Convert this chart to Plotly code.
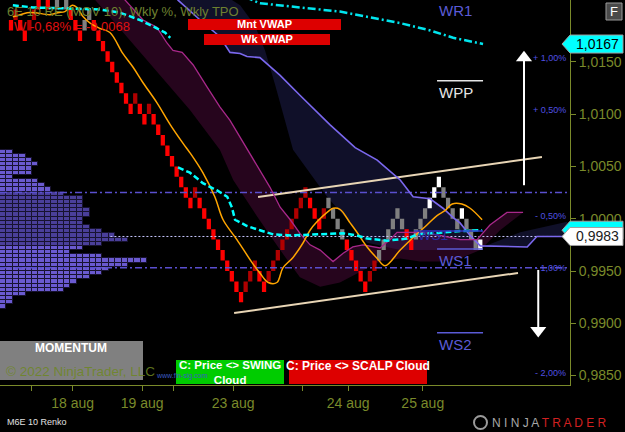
import plotly.graph_objects as go

# ------------------------------------------------------------------ data
BRICK = 0.001
BRICK_FLOOR = 0.9920
brick_level = [26, 27, 26, 25, 26, 27, 28, 29, 28, 29, 28, 29, 28, 27, 26, 25, 26, 27, 26, 25,
               24, 23, 22, 21, 20, 19, 18, 19, 18, 17, 18, 17, 16, 15, 14, 13, 12, 11, 10, 9,
               10, 9, 8, 7, 6, 5, 4, 3, 2, 1, 0, 1, 2, 3, 2, 1, 2, 3, 4, 5,
               6, 7, 8, 9, 10, 9, 8, 7, 8, 9, 8, 7, 6, 5, 4, 3, 2, 1, 2, 3,
               4, 5, 6, 7, 8, 7, 6, 5, 6, 7, 8, 9, 10, 11, 10, 9, 8, 7, 8, 7,
               6, 5, 5]
brick_kind = list("DUDDUUDUDGGGGDDDGGDD"
                  "DDDDDDDUDDUDDDDDDDDD"
                  "UDDDDDDDDDDUUUDDUUUU"
                  "UUUUUDDDUGGGGDDDDDUU"
                  "GGGGGGDDGGGWWWGGGGWG"
                  "GGW")

# fast moving average (orange)
ma_idx = [0.4, 2.0, 3.5, 5.2, 8.5, 10.2, 11.7, 13.3, 14.3, 15.7, 17.2, 19.3, 21.5, 24.3, 26.5, 28.7,
          31.7, 34.6, 37.4, 38.9, 41.7, 44.3, 46.1, 49.1, 52.4, 54.1, 55.9, 57.8, 59.1, 61.3, 63.5,
          65.0, 66.5, 68.7, 70.0, 71.5, 73.7, 75.2, 77.4, 79.6, 81.3, 84.6, 87.4, 90.4, 92.6, 94.4,
          95.9, 98.0, 99.8, 102.4]
ma_val = [1.0193, 1.0195, 1.0197, 1.0197, 1.0195, 1.0197, 1.0198, 1.0204, 1.0202, 1.0193, 1.0187,
          1.0182, 1.0178, 1.0158, 1.0145, 1.0130, 1.0111, 1.0090, 1.0072, 1.0063, 1.0044, 1.0021,
          0.9999, 0.9980, 0.9958, 0.9948, 0.9939, 0.9939, 0.9953, 0.9963, 0.9977, 0.9989, 0.9997,
          1.0006, 1.0010, 1.0009, 0.9996, 0.9987, 0.9973, 0.9962, 0.9955, 0.9970, 0.9982, 0.9994,
          1.0003, 1.0008, 1.0014, 1.0014, 1.0010, 0.9999]

# weekly VWAP (two weeks) and monthly VWAP
wvwap1_idx = [0.4, 4.8, 12.2, 19.3, 23.7, 28.0, 31.7, 33.5, 34.6]
wvwap1_val = [1.0204, 1.0202, 1.0201, 1.0200, 1.0197, 1.0190, 1.0182, 1.0178, 1.0173]
wvwap2_idx = [36.3, 38.9, 41.7, 44.8, 47.0, 48.0, 48.7, 51.3, 54.1, 57.0, 60.7, 65.0, 69.3, 72.2,
              75.2, 77.4, 81.7, 86.1, 88.3, 91.1, 93.3, 97.0, 102.4]
wvwap2_val = [1.0049, 1.0044, 1.0034, 1.0027, 1.0021, 1.0011, 0.9999, 0.9993, 0.9989, 0.9985,
              0.9984, 0.9985, 0.9986, 0.9986, 0.9984, 0.9981, 0.9979, 0.9981, 0.9985, 0.9986,
              0.9987, 0.9988, 0.9989]
mvwap_idx = [50.9, 54.1, 71.5, 84.6, 91.1, 96.1, 102.6]
mvwap_val = [1.0212, 1.0206, 1.0198, 1.0187, 1.0180, 1.0173, 1.0167]

# swing cloud (lavender edge + second edge)
swing_a_idx = [20.0, 30.2, 36.3, 41.1, 45.4, 47.6, 49.8, 51.3, 54.1, 58.5, 62.8, 69.3, 74.8, 79.6,
               80.9, 84.6, 87.4, 91.1, 93.9, 96.1, 97.6, 99.8, 102.0, 112.2, 114.3, 120.9]
swing_a_val = [1.0320, 1.0247, 1.0209, 1.0190, 1.0174, 1.0159, 1.0158, 1.0155, 1.0154, 1.0137,
               1.0118, 1.0090, 1.0068, 1.0056, 1.0051, 1.0037, 1.0021, 1.0019, 1.0010, 1.0001,
               0.9996, 0.9984, 0.9974, 0.9973, 0.9983, 0.9983]
swing_b_idx = [20.0, 30.2, 41.1, 49.8, 53.0, 55.2, 57.4, 59.6, 61.3, 68.7, 73.7, 77.4, 84.6, 93.3,
               102.0, 110.7, 120.9]
swing_b_val = [1.0330, 1.0260, 1.0228, 1.0204, 1.0185, 1.0161, 1.0128, 1.0094, 1.0066, 1.0021,
               0.9996, 0.9977, 0.9970, 0.9970, 0.9972, 0.9987, 0.9997]

# scalp cloud (magenta edge + lower edge)
scalp_a_idx = [21.5, 24.8, 28.7, 31.7, 33.9, 35.2, 37.2, 39.6, 42.6, 45.4, 47.6, 49.8, 52.0, 54.1,
               56.3, 58.5, 60.7, 62.8, 65.0, 67.2, 70.0, 72.2, 74.3, 76.5, 80.2, 82.4, 83.9, 86.7,
               89.6, 93.3, 97.6, 101.3, 104.1, 107.8, 111.3]
scalp_a_val = [1.0223, 1.0209, 1.0190, 1.0183, 1.0168, 1.0161, 1.0159, 1.0147, 1.0126, 1.0107,
               1.0094, 1.0078, 1.0061, 1.0047, 1.0030, 1.0011, 0.9999, 0.9986, 0.9975, 0.9970,
               0.9959, 0.9967, 0.9973, 0.9975, 0.9972, 0.9980, 0.9987, 0.9987, 0.9987, 0.9984,
               0.9980, 0.9980, 0.9994, 1.0006, 1.0006]
scalp_b_idx = [15.0, 18.3, 25.9, 32.4, 38.9, 45.4, 48.3, 53.5, 58.5, 62.8, 67.2, 71.5, 75.9, 80.2,
               84.6, 88.9, 93.3, 97.6, 102.0, 106.3, 111.3]
scalp_b_val = [1.0235, 1.0209, 1.0171, 1.0137, 1.0104, 1.0066, 1.0037, 1.0002, 0.9970, 0.9944,
               0.9935, 0.9939, 0.9949, 0.9959, 0.9962, 0.9959, 0.9959, 0.9962, 0.9970, 0.9989,
               1.0006]

# weekly TPO profile
tpo_price = [1.0064, 1.0060, 1.0056, 1.0052, 1.0048, 1.0044, 1.0040, 1.0036, 1.0032, 1.0028,
             1.0024, 1.0020, 1.0016, 1.0012, 1.0008, 1.0004, 1.0000, 0.9996, 0.9992, 0.9988,
             0.9984, 0.9980, 0.9976, 0.9972, 0.9968, 0.9964, 0.9960, 0.9956, 0.9952, 0.9948,
             0.9944, 0.9940, 0.9936, 0.9932, 0.9928, 0.9924, 0.9920, 0.9916]
tpo_count = [2, 4, 5, 6, 5, 5, 2, 6, 7, 8, 10, 13, 13, 13, 14, 14, 13, 13, 14, 16,
             18, 20, 16, 13, 11, 16, 23, 20, 17, 16, 14, 12, 11, 10, 4, 2, 2, 1]
value_area = (0.9973, 1.0025)

# levels
level_dashdot = [1.0025, 0.9953]
last_price = 0.9983
wk_vwap_last = 0.9989
mnt_vwap_last = 1.0167
pct_ref = 1.00532
pct_levels = [1.0, 0.5, -0.5, -1.0, -2.0]
pivots = [("WR1", 1.0213), ("WPP", 1.0132), ("WS1", 0.9971), ("WS2", 0.9891)]
chan_upper = ([53.7, 115.4], [1.00207, 1.00590])
chan_lower = ([48.5, 110.2], [0.99098, 0.99481])
range_up = (111.5, 1.0032, 1.0154)
range_dn = (114.6, 0.9951, 0.9893)

tick_idx = [4.5, 13.4, 28.5, 35.4, 48.3, 63.4, 73.3, 89.5]
tick_txt = ["", "18 aug", "19 aug", "", "23 aug", "", "24 aug", "25 aug"]
y_ticks = [0.9850, 0.9900, 0.9950, 1.0000, 1.0050, 1.0100, 1.0150]

# ------------------------------------------------------------------ style
X0, X1 = -2.39, 121.5
Y0, Y1 = 0.98410, 1.02091
PW, PH = 570, 385
OLIVE = "#7A8A2A"
FONT = "Liberation Sans, Arial, sans-serif"
KIND_COL = {"D": "#FF0000", "U": "#B00000", "G": "#808080", "W": "#FFFFFF"}
BW = 0.46  # half brick width in bar units


def ax(px):
    return px / PW


def ay(py):
    return 1 - py / PH


def py_of(p):
    return (p - Y0) / (Y1 - Y0)


fig = go.Figure()

# clouds
fig.add_trace(go.Scatter(x=swing_a_idx + swing_b_idx[::-1], y=swing_a_val + swing_b_val[::-1],
                         fill="toself", fillcolor="rgba(50,50,125,0.33)", line=dict(width=0),
                         mode="lines", hoverinfo="skip"))
fig.add_trace(go.Scatter(x=scalp_a_idx + scalp_b_idx[::-1], y=scalp_a_val + scalp_b_val[::-1],
                         fill="toself", fillcolor="rgba(105,15,80,0.36)", line=dict(width=0),
                         mode="lines", hoverinfo="skip"))

# TPO profile cells
cw = 6.4 / 4.6
cy, cb, cc = [], [], []
for p, n in zip(tpo_price, tpo_count):
    inside = value_area[0] <= p <= value_area[1]
    for j in range(n):
        cy.append(p)
        cb.append(X0 + j * cw)
        cc.append("#4A3F9A" if inside else "#6A5AD0")
fig.add_trace(go.Bar(orientation="h", y=cy, x=[cw] * len(cy), base=cb, width=0.0004,
                     marker=dict(color=cc, line=dict(color="#17122f", width=1)),
                     hoverinfo="skip"))

# renko bricks, one filled polygon trace per brick colour
for kind, col in KIND_COL.items():
    xs, ys = [], []
    for i, (k, kd) in enumerate(zip(brick_level, brick_kind)):
        if kd != kind:
            continue
        lo = BRICK_FLOOR + k * BRICK
        hi = lo + BRICK
        xs += [i - BW, i + BW, i + BW, i - BW, i - BW, None]
        ys += [lo, lo, hi, hi, lo, None]
    fig.add_trace(go.Scatter(x=xs, y=ys, mode="lines", fill="toself", fillcolor=col,
                             line=dict(width=0, color=col), hoverinfo="skip"))

# horizontal levels
for lv in level_dashdot:
    fig.add_trace(go.Scatter(x=[X0, X1], y=[lv, lv], mode="lines",
                             line=dict(color="#5A4FCF", width=1.5, dash="7px,3px,2px,3px")))
fig.add_trace(go.Scatter(x=[X0 + 24, X1], y=[last_price, last_price], mode="lines",
                         line=dict(color="#C8C8FF", width=1, dash="2px,2px")))

# channel lines
for cx_, cyv in (chan_upper, chan_lower):
    fig.add_trace(go.Scatter(x=cx_, y=cyv, mode="lines", line=dict(color="#E8D5B5", width=2)))

# cloud edge lines
fig.add_trace(go.Scatter(x=swing_a_idx, y=swing_a_val, mode="lines",
                         line=dict(color="#7B68EE", width=1.6)))
fig.add_trace(go.Scatter(x=scalp_a_idx, y=scalp_a_val, mode="lines",
                         line=dict(color="#A8288A", width=1.3)))

# moving average and vwaps
fig.add_trace(go.Scatter(x=ma_idx, y=ma_val, mode="lines", line=dict(color="#FFA500", width=1.5,
                                                                     shape="spline")))
for xi, yv in ((wvwap1_idx, wvwap1_val), (wvwap2_idx, wvwap2_val)):
    fig.add_trace(go.Scatter(x=xi, y=yv, mode="lines",
                             line=dict(color="#00FFFF", width=2.5, dash="6px,3px")))
fig.add_trace(go.Scatter(x=mvwap_idx, y=mvwap_val, mode="lines",
                         line=dict(color="#00E5EE", width=2.5, dash="8px,3px,2px,3px")))

# expected range arrows
for (xa, a, b), sym in ((range_up, "triangle-up"), (range_dn, "triangle-down")):
    fig.add_trace(go.Scatter(x=[xa, xa], y=[a, b], mode="lines",
                             line=dict(color="#FFFFFF", width=2)))
    fig.add_trace(go.Scatter(x=[xa], y=[b], mode="markers",
                             marker=dict(symbol=sym, size=14, color="#FFFFFF")))

shapes = []
ann = []

# pivot labels (overline + name)
for name, p in pivots:
    col = "#E6E6E6" if name == "WPP" else "#5B5BD6"
    shapes.append(dict(type="line", xref="x", yref="y", x0=92.6, x1=102.6, y0=p, y1=p,
                       line=dict(color=col, width=1.5)))
    if p <= Y1:
        ann.append(dict(x=92.6, y=p, xref="x", yref="y", text=name, showarrow=False,
                        xanchor="left", yanchor="top", yshift=-1,
                        font=dict(family=FONT, size=15, color=col)))
    else:  # level above the visible range: label pinned to the top edge
        ann.append(dict(x=92.6, y=1, xref="x", yref="paper", text=name, showarrow=False,
                        xanchor="left", yanchor="top", yshift=0,
                        font=dict(family=FONT, size=15, color=col)))

# percent labels
for pc in pct_levels:
    p = pct_ref * (1 + pc / 100)
    txt = ("+ " if pc > 0 else "- ") + f"{abs(pc):.2f}".replace(".", ",") + "%"
    ann.append(dict(x=1, y=p, xref="paper", yref="y", text=txt, showarrow=False,
                    xanchor="right", yanchor="middle", xshift=-2,
                    font=dict(family=FONT, size=9, color="#5050E0")))

# small WS1 tag line
shapes.append(dict(type="line", xref="x", yref="y", x0=87.6, x1=102.6, y0=0.99883, y1=0.99883,
                   line=dict(color="#3030C0", width=1.5)))
ann.append(dict(x=88.0, y=0.9984, xref="x", yref="y", text="WS1", showarrow=False,
                xanchor="left", yanchor="middle",
                font=dict(family=FONT, size=14, color="#2A2AA0")))

# title texts
ann.append(dict(x=ax(5), y=ay(11), xref="paper", yref="paper", showarrow=False,
                text="6E 10 RE (MOV 10), Wkly %, Wkly TPO", xanchor="left", yanchor="middle",
                font=dict(family=FONT, size=13, color="#6E8030")))
ann.append(dict(x=ax(12), y=ay(26), xref="paper", yref="paper", showarrow=False,
                text="W -0,68% = -0,0068", xanchor="left", yanchor="middle",
                font=dict(family=FONT, size=13, color="#E01010")))


def box(x0, y0, x1, y1, fill, line=None):
    shapes.append(dict(type="rect", xref="paper", yref="paper", x0=ax(x0), x1=ax(x1),
                       y0=ay(y1), y1=ay(y0), fillcolor=fill,
                       line=dict(width=1 if line else 0, color=line or fill), layer="above"))


def label(x, y, text, size=11, color="#FFFFFF", bold=True, anchor="center", family=FONT):
    t = f"<b>{text}</b>" if bold else text
    ann.append(dict(x=ax(x), y=ay(y), xref="paper", yref="paper", text=t, showarrow=False,
                    xanchor=anchor, yanchor="middle", font=dict(family=family, size=size,
                                                                  color=color)))


box(188, 19, 341, 30, "#DD0000")
label(264, 24.5, "Mnt VWAP")
box(204, 34, 330, 45, "#DD0000")
label(267, 39.5, "Wk VWAP")

box(0, 341, 143, 380, "#808080")
label(71, 348, "MOMENTUM", size=12)
label(4, 371, "© 2022 NinjaTrader, LLC", size=13.5, color="rgba(110,135,35,0.85)", bold=False,
      anchor="left")
label(154, 376, "www.fin-sig.com", size=7, color="#3A5AC0", bold=False, anchor="left")

box(176, 360, 284, 384, "#00CC00")
ann.append(dict(x=ax(230), y=ay(372), xref="paper", yref="paper", showarrow=False,
                xanchor="center", yanchor="middle", align="center",
                text="<b>C: Price &lt;&gt; SWING<br>Cloud</b>",
                font=dict(family=FONT, size=11.5, color="#FFFFFF")))
box(289, 360, 427, 384, "#DD0000")
label(358, 366, "C: Price &lt;&gt; SCALP Cloud", size=12)

# F button
box(606, 3, 622, 20, "#4A4A4A", "#9A9A9A")
label(614, 11.5, "F", size=13, bold=False)


# price markers at the right axis
def marker(price, fill, text, txtcol):
    yc = py_of(price)
    h = 9.0 / PH
    shapes.append(dict(type="path", xref="paper", yref="paper",
                       path=f"M {ax(562)},{yc} L {ax(570)},{yc + h} L {ax(623)},{yc + h} "
                            f"L {ax(623)},{yc - h} L {ax(570)},{yc - h} Z",
                       fillcolor=fill, line=dict(color="#A0A0A0", width=1), layer="above"))
    if text:
        ann.append(dict(x=ax(597), y=yc, xref="paper", yref="paper", text=text, showarrow=False,
                        xanchor="center", yanchor="middle",
                        font=dict(family=FONT, size=14, color=txtcol)))


marker(mnt_vwap_last, "#00FFFF", f"{mnt_vwap_last:.4f}".replace(".", ","), "#000000")
marker(wk_vwap_last, "#00FFFF", "", "#000000")
marker(last_price, "#FFFFFF", f"{last_price:.4f}".replace(".", ","), "#202020")

# footer
label(5, 422, "M6E 10 Renko", size=9, color="#E0E0E0", bold=False, anchor="left")
shapes.append(dict(type="circle", xref="paper", yref="paper", x0=ax(474), x1=ax(487),
                   y0=ay(429), y1=ay(416), line=dict(color="#9A9A9A", width=2)))
ann.append(dict(x=ax(490), y=ay(423), xref="paper", yref="paper", showarrow=False,
                xanchor="left", yanchor="middle",
                text="<span style='color:#A8A8A8'>N I N J A </span>"
                     "<span style='color:#D02020'>T R A D E R</span>",
                font=dict(family=FONT, size=12)))

fig.update_layout(
    width=625, height=432, margin=dict(l=0, r=55, t=0, b=47),
    paper_bgcolor="#000000", plot_bgcolor="#000000", showlegend=False,
    barmode="overlay", bargap=0, separators=",.",
    shapes=shapes, annotations=ann,
    xaxis=dict(range=[X0, X1], tickvals=tick_idx, ticktext=tick_txt, ticks="outside",
               ticklen=5, tickcolor=OLIVE, showline=True, linecolor=OLIVE, linewidth=1,
               showgrid=False, zeroline=False,
               tickfont=dict(family=FONT, size=14, color=OLIVE)),
    yaxis=dict(range=[Y0, Y1], side="right", tickvals=y_ticks, tickformat=".4f",
               ticks="outside", ticklen=5, tickcolor=OLIVE, showline=True, linecolor=OLIVE,
               linewidth=1, showgrid=False, zeroline=False,
               tickfont=dict(family=FONT, size=14, color=OLIVE)),
)

fig.write_html("out.html")
